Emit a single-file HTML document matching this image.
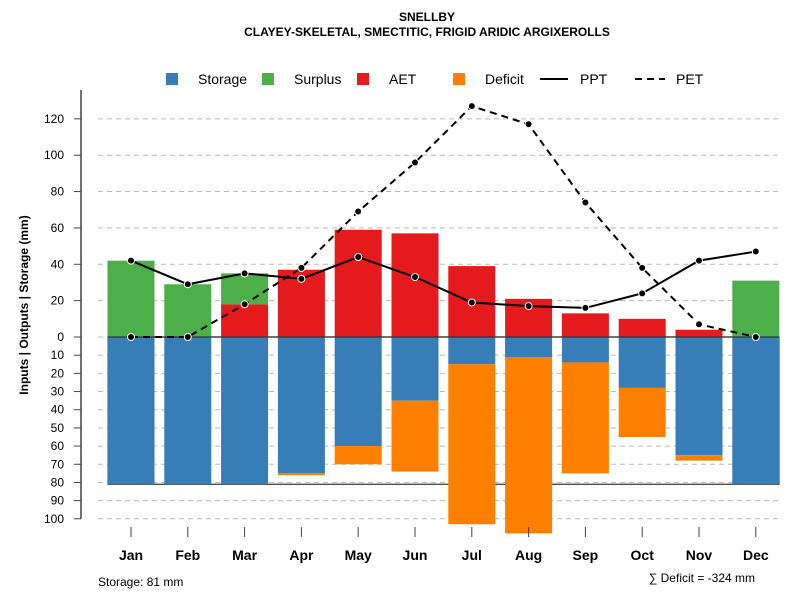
<!DOCTYPE html>
<html><head><meta charset="utf-8"><style>
body{margin:0;background:#fff;}
svg{display:block;font-family:"Liberation Sans",Arial,sans-serif;}
</style></head><body>
<svg id="c" width="800" height="600" viewBox="0 0 800 600">
<text x="427" y="21" text-anchor="middle" font-size="12" font-weight="bold">SNELLBY</text>
<text x="427" y="36" text-anchor="middle" font-size="12" font-weight="bold">CLAYEY-SKELETAL, SMECTITIC, FRIGID ARIDIC ARGIXEROLLS</text>
<g>
<g><rect x="166" y="73" width="12" height="12" fill="#377eb8"/><text x="198" y="84" font-size="14">Storage</text></g>
<g><rect x="262" y="73" width="12" height="12" fill="#4daf4a"/><text x="294" y="84" font-size="14">Surplus</text></g>
<g><rect x="357" y="73" width="12" height="12" fill="#e41a1c"/><text x="389" y="84" font-size="14">AET</text></g>
<g><rect x="453" y="73" width="12" height="12" fill="#ff7f00"/><text x="485" y="84" font-size="14">Deficit</text></g>
<g><line x1="540" y1="79" x2="568" y2="79" stroke="#000" stroke-width="2"/><text x="580" y="84" font-size="14">PPT</text></g>
<g><line x1="635" y1="79" x2="665" y2="79" stroke="#000" stroke-width="2" stroke-dasharray="7,5"/><text x="676" y="84" font-size="14">PET</text></g>
</g>
<text transform="translate(28,305) rotate(-90)" text-anchor="middle" font-size="12" font-weight="bold">Inputs | Outputs | Storage    (mm)</text>
<text x="98" y="586" font-size="12">Storage: 81 mm</text>
<text x="755" y="582" text-anchor="end" font-size="12">∑ Deficit = -324 mm</text>
<g id="plot"></g>
</svg>
<script>
const months=["Jan","Feb","Mar","Apr","May","Jun","Jul","Aug","Sep","Oct","Nov","Dec"];
const storage=[81,81,81,75,60,35,15,11,14,28,65,81];
const deficit=[0,0,0,1,10,39,88,97,61,27,3,0];
const aet=[0,0,18,37,59,57,39,21,13,10,4,0];
const surplus=[42,29,17,0,0,0,0,0,0,0,0,31];
const ppt=[42,29,35,32,44,33,19,17,16,24,42,47];
const pet=[0,0,18,38,69,96,127,117,74,38,7,0];
const posTicks=[0,20,40,60,80,100,120];
const negTicks=[10,20,30,40,50,60,70,80,90,100];
const storageCap=81;

const NS="http://www.w3.org/2000/svg";
const g=document.getElementById('plot');
const y0=337,k=1.818;
const yv=v=>y0-v*k;
const xc=i=>131+i*56.8;
const bw=47;
function mk(t,a){const e=document.createElementNS(NS,t);for(const n in a)e.setAttribute(n,a[n]);g.appendChild(e);return e;}
// grid + ticks
posTicks.forEach(v=>{
 const l=mk('line',{x1:98,x2:779,y1:yv(v),y2:yv(v),stroke:'#bbb','stroke-dasharray':'5,4'});
 
 
 mk('line',{x1:74,x2:81,y1:yv(v),y2:yv(v),stroke:'#444'});
 const t=mk('text',{x:64,y:yv(v)+4,'text-anchor':'end','font-size':12});t.textContent=v;
 
 
});
negTicks.forEach(v=>{
 const l=mk('line',{x1:98,x2:779,y1:yv(-v),y2:yv(-v),stroke:'#bbb','stroke-dasharray':'5,4'});
 
 
 mk('line',{x1:74,x2:81,y1:yv(-v),y2:yv(-v),stroke:'#444'});
 const t=mk('text',{x:64,y:yv(-v)+4,'text-anchor':'end','font-size':12});t.textContent=v;
 
 
});
const ax=mk('line',{x1:81,x2:81,y1:90,y2:yv(-100),stroke:'#444','stroke-width':1.5});


const box=mk('rect',{x:108,y:y0,width:671,height:storageCap*k,fill:'none',stroke:'#333','stroke-width':1.2});


months.forEach((m,i)=>{
 const x=xc(i)-bw/2;
 function bar(top,bot,col,name){if(Math.abs(bot-top)<0.01)return;const r=mk('rect',{x:x,y:Math.min(yv(top),yv(bot)),width:bw,height:Math.abs(top-bot)*k,fill:col});
  
  }
 bar(0,-storage[i],'#377eb8','storage');
 bar(-storage[i],-storage[i]-deficit[i],'#ff7f00','deficit');
 bar(0,aet[i],'#e41a1c','aet');
 bar(aet[i],aet[i]+surplus[i],'#4daf4a','surplus');
 mk('line',{x1:xc(i),x2:xc(i),y1:527,y2:537,stroke:'#444'});
 const t=mk('text',{x:xc(i),y:560,'text-anchor':'middle','font-size':14,'font-weight':'bold'});t.textContent=m;
 
 
});
const zl=mk('line',{x1:108,x2:779,y1:y0,y2:y0,stroke:'#333','stroke-width':1.2});


function series(vals,name,dash){
 const p=mk('polyline',{points:vals.map((v,i)=>xc(i)+','+yv(v)).join(' '),fill:'none',stroke:'#000','stroke-width':2});
 if(dash)p.setAttribute('stroke-dasharray','7,5');
 
 
 vals.forEach((v,i)=>{const c=mk('circle',{cx:xc(i),cy:yv(v),r:3.5,fill:'#000',stroke:'#fff','stroke-width':1});
  
  });
}
series(ppt,'ppt',false);
series(pet,'pet',true);
</script>
</body></html>
